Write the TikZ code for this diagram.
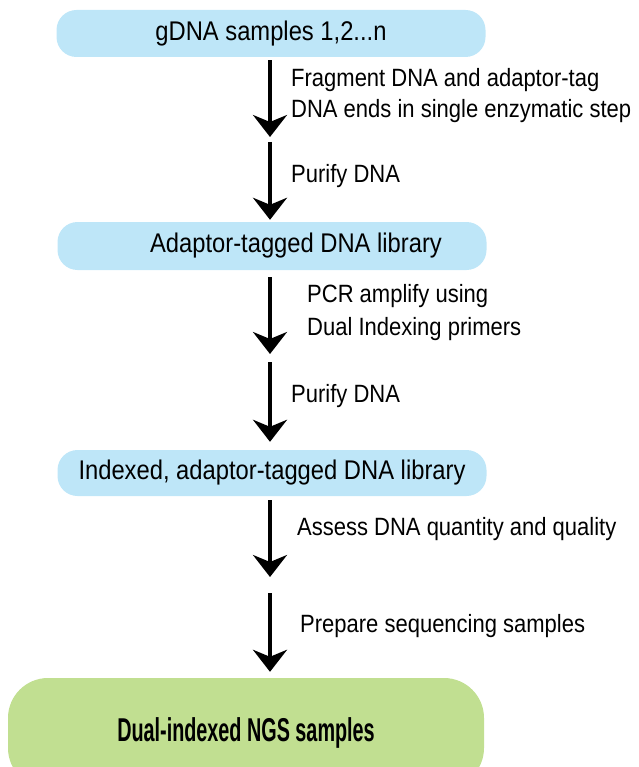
\documentclass[tikz,border=0pt]{standalone}
\usepackage{fontspec}
\setmainfont{Liberation Sans}[FakeStretch=0.88]
\newfontfamily\condbold{Liberation Sans}[FakeStretch=0.6]
\usetikzlibrary{arrows.meta}
\definecolor{boxblue}{RGB}{190,230,248}
\definecolor{boxgreen}{RGB}{193,223,145}

\begin{document}
\begin{tikzpicture}[x=1pt, y=-1pt,
      every node/.append style={inner sep=0pt},
      flow/.style={-{Stealth[length=22pt,width=34pt,inset=7pt]}, line width=3.5pt}]
    \tikzstyle{stage} = [fill=boxblue,rounded corners=20pt,minimum width=429pt,minimum height=47pt,font=\fontsize{27}{30}\selectfont]
    \tikzstyle{note} = [anchor=base west,font=\fontsize{25}{33}\selectfont]
    \useasboundingbox (0,0) rectangle (638,767);
    % boxes
    \node[stage] (gdna) at (271,33.5) {gDNA samples 1,2...n};
    \node[stage, minimum height=48pt] (lib) at (272,246) {\hspace*{48pt}Adaptor-tagged DNA library};
    \node[stage, minimum height=46pt] (idx) at (272,473) {Indexed, adaptor-tagged DNA library};
    \node[fill=boxgreen,rounded corners=40pt,minimum width=476pt,minimum height=110pt,
          font=\condbold\bfseries\fontsize{33}{36}\selectfont] (ngs) at (246,733) {Dual-indexed NGS samples};
    % ends of the split arrows
    \coordinate (a1) at (270,137);  \coordinate (b1) at (270,142);
    \coordinate (a2) at (270,354);  \coordinate (b2) at (270,362);
    \coordinate (a3) at (270,577);  \coordinate (b3) at (270,593);
    \draw[flow, shorten <=3pt] (a1 |- gdna.south) -- (a1);
    \draw[flow, shorten >=2pt] (b1) -- (b1 |- lib.north);
    \draw[flow, shorten <=7pt] (a2 |- lib.south) -- (a2);
    \draw[flow, shorten >=8pt] (b2) -- (b2 |- idx.north);
    \draw[flow, shorten <=4pt] (a3 |- idx.south) -- (a3);
    \draw[flow, shorten >=6pt] (b3) -- (b3 |- ngs.north);
    % labels
    \node[note] (frag) at (291,87) {Fragment DNA and adaptor-tag};
    \node[note] (frag2) at (291,118) {DNA ends in single enzymatic step};
    \node[note] (pur1) at (291,183) {Purify DNA};
    \node[note] (pcr) at (307,302) {PCR amplify using};
    \node[note] (pcr2) at (307,335) {Dual Indexing primers};
    \node[note] (pur2) at (291,402) {Purify DNA};
    \node[note] (qc) at (297,535) {Assess DNA quantity and quality};
    \node[note] (prep) at (300,632) {Prepare sequencing samples};
\end{tikzpicture}
\end{document}
